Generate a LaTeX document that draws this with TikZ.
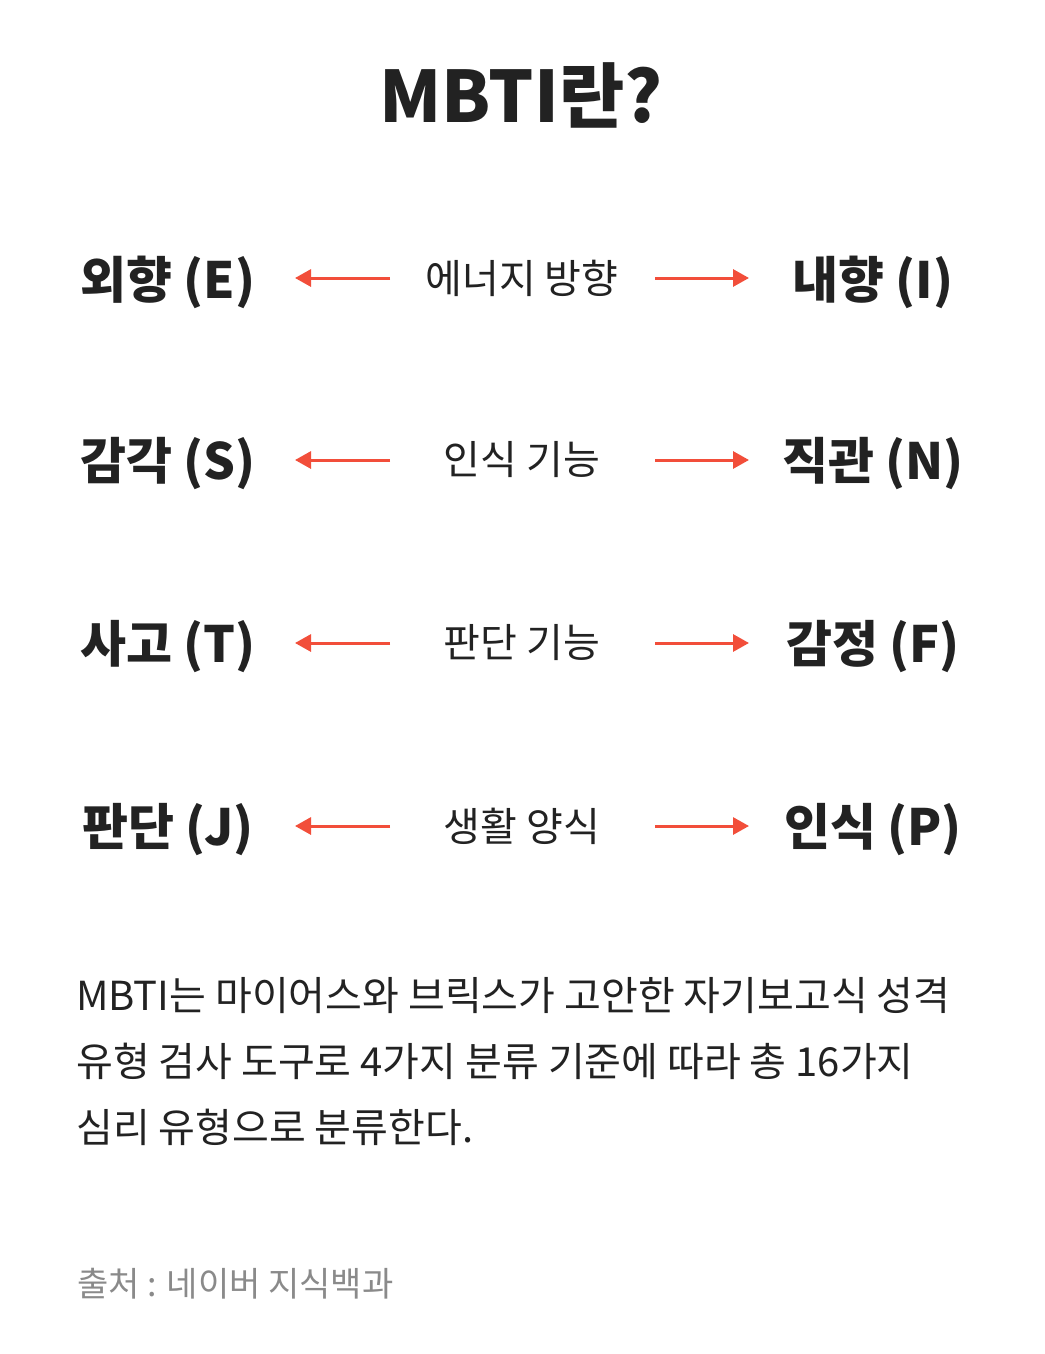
\documentclass[tikz,border=0pt]{standalone}
\usepackage{fontspec}
\setmainfont{Noto Sans CJK KR}
\usetikzlibrary{arrows.meta}
\definecolor{ink}{HTML}{222222}
\definecolor{arr}{HTML}{F24E3A}
\definecolor{src}{HTML}{8A8A8A}
\tikzset{
  side/.style={font=\fontsize{50}{56}\selectfont\bfseries, text=ink, inner sep=0pt, anchor=center},
  mid/.style={font=\fontsize{40}{46}\selectfont, text=ink, inner sep=0pt, anchor=center},
  arrline/.style={draw=arr, line width=3pt, -{Triangle[length=16pt,width=17pt]}},
}
\begin{document}
\begin{tikzpicture}[x=1pt,y=-1pt]
\fill[white] (0,0) rectangle (1044,1354);
\useasboundingbox (0,0) rectangle (1044,1354);
\node[font=\fontsize{71}{78}\selectfont\bfseries, text=ink, inner sep=0pt] (title) at (521,95) {MBTI란?};
\foreach \i/\y/\L/\M/\R in {1/278/외향 (E)/에너지 방향/내향 (I),2/460/감각 (S)/인식 기능/직관 (N),3/643/사고 (T)/판단 기능/감정 (F),4/826/판단 (J)/생활 양식/인식 (P)}{
  \node[side] (l\i) at (168,\y+4) {\L};
  \node[mid] (m\i) at (522,\y) {\M};
  \node[side] (r\i) at (873,\y+4) {\R};
  \coordinate (la\i) at (390,\y);
  \coordinate (lb\i) at (295,\y);
  \coordinate (ra\i) at (655,\y);
  \coordinate (rb\i) at (749,\y);
  \draw[arrline] (la\i) -- (lb\i);
  \draw[arrline] (ra\i) -- (rb\i);
}
\node[font=\fontsize{40}{66}\selectfont, text=ink, inner sep=0pt, anchor=north west, align=left] (para) at (76,977) {MBTI는 마이어스와 브릭스가 고안한 자기보고식 성격\\유형 검사 도구로 4가지 분류 기준에 따라 총 16가지\\심리 유형으로 분류한다.};
\node[font=\fontsize{34}{40}\selectfont, text=src, inner sep=0pt, anchor=west] (source) at (77,1284) {출처 : 네이버 지식백과};
\end{tikzpicture}
\end{document}
